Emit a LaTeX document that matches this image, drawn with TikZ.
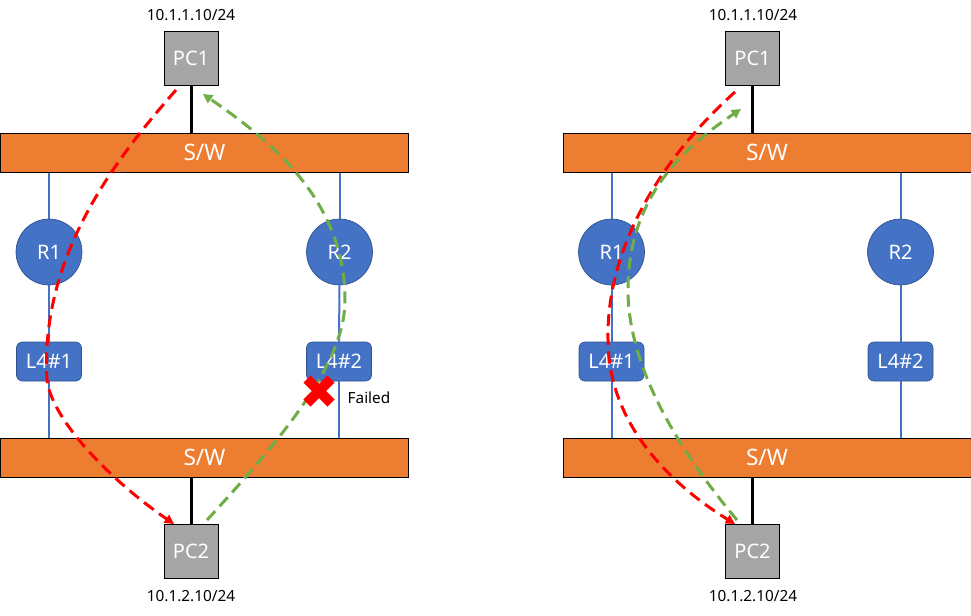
\documentclass[tikz,border=0pt]{standalone}
\usepackage{fontspec}
\setmainfont{Noto Sans}
\usetikzlibrary{arrows.meta}
\definecolor{swor}{HTML}{ED7D31}
\definecolor{rblue}{HTML}{4472C4}
\definecolor{rbord}{HTML}{2F528F}
\definecolor{pcgray}{HTML}{A5A5A5}
\definecolor{pgreen}{HTML}{70AD47}
\definecolor{pred}{HTML}{FF0000}
\begin{document}
\begin{tikzpicture}[x=0.75pt,y=-0.75pt,
  pcbox/.style={draw=black, line width=0.75pt, fill=pcgray, minimum width=40.5pt, minimum height=40.5pt, inner sep=0pt, text=white, font=\fontsize{15}{17}\selectfont},
  swbar/.style={draw=black, line width=0.75pt, fill=swor, minimum width=306pt, minimum height=29.25pt, inner sep=0pt, text=white, font=\fontsize{17}{19}\selectfont},
  router/.style={circle, fill=rblue, draw=rbord, line width=0.5pt, minimum size=49.5pt, inner sep=0pt, text=white, font=\fontsize{15}{17}\selectfont},
  l4box/.style={rounded corners=4.5pt, fill=rblue, draw=rbord, line width=0.5pt, minimum width=48.75pt, minimum height=29.25pt, inner sep=0pt, text=white, font=\fontsize{15}{17}\selectfont},
  iplabel/.style={font=\fontsize{11.5}{13}\selectfont, text=black},
  blink/.style={rblue, line width=1.5pt},
  klink/.style={black, line width=2.25pt},
  redpath/.style={pred, line width=2.25pt, dash pattern=on 9pt off 5pt, -{Triangle[length=7pt,width=7pt]}},
  greenpath/.style={pgreen, line width=2.25pt, dash pattern=on 9pt off 5pt, -{Triangle[length=7pt,width=7pt]}}
]
\useasboundingbox (0,0) rectangle (971,615);

% ---------------- Left panel ----------------
\node[iplabel] (ipa1) at (191,15) {10.1.1.10/24};
\node[pcbox] (PCa1) at (191,58) {PC1};
\node[swbar] (SWa1) at (204.5,152.5) {S/W};
\node[router] (Ra1) at (49,252) {R1};
\node[router] (Ra2) at (339.5,252) {R2};
\node[l4box] (La1) at (49,361.5) {L4\#1};
\node[l4box] (La2) at (339,361.5) {L4\#2};
\node[swbar] (SWa2) at (204.5,457.5) {S/W};
\node[pcbox] (PCa2) at (191,551) {PC2};
\node[iplabel] (ipa2) at (191,596) {10.1.2.10/24};
\node[iplabel] (fail) at (369,398) {Failed};

\draw[klink] (PCa1.south) -- (PCa1.south |- SWa1.north);
\draw[klink] (PCa2.north) -- (PCa2.north |- SWa2.south);
\draw[blink] (Ra1.north |- SWa1.south) -- (Ra1.north);
\draw[blink] (Ra1.south) -- (La1.north);
\draw[blink] (La1.south) -- (La1.south |- SWa2.north);
\draw[blink] (Ra2.north |- SWa1.south) -- (Ra2.north);
\draw[blink] (Ra2.south) -- (La2.north);
\draw[blink] (La2.south) -- (La2.south |- SWa2.north);

\coordinate (ra0) at (176,90);
\coordinate (ra1) at (47,380);
\coordinate (ra2) at (174,524);
\draw[redpath] (ra0) .. controls (110,165) and (40,260) .. (ra1) .. controls (52,420) and (110,480) .. (ra2);

\coordinate (ga0) at (207,520);
\coordinate (ga1) at (345,300);
\coordinate (ga2) at (203,94);
\draw[greenpath] (ga0) .. controls (290,430) and (345,360) .. (ga1) .. controls (345,200) and (270,140) .. (ga2);

% red cross
\draw[pred, line width=7.5pt] (307,379) -- (331,403) (331,379) -- (307,403);

% ---------------- Right panel ----------------
\node[iplabel] (ipb1) at (753,15) {10.1.1.10/24};
\node[pcbox] (PCb1) at (752.5,58) {PC1};
\node[swbar] (SWb1) at (767,152.5) {S/W};
\node[router] (Rb1) at (611.5,252) {R1};
\node[router] (Rb2) at (900.5,252) {R2};
\node[l4box] (Lb1) at (611.5,361.5) {L4\#1};
\node[l4box] (Lb2) at (900.5,361.5) {L4\#2};
\node[swbar] (SWb2) at (767,457.5) {S/W};
\node[pcbox] (PCb2) at (752.5,551) {PC2};
\node[iplabel] (ipb2) at (753,596) {10.1.2.10/24};

\draw[klink] (PCb1.south) -- (PCb1.south |- SWb1.north);
\draw[klink] (PCb2.north) -- (PCb2.north |- SWb2.south);
\draw[blink] (Rb1.north |- SWb1.south) -- (Rb1.north);
\draw[blink] (Rb1.south) -- (Lb1.north);
\draw[blink] (Lb1.south) -- (Lb1.south |- SWb2.north);
\draw[blink] (Rb2.north |- SWb1.south) -- (Rb2.north);
\draw[blink] (Rb2.south) -- (Lb2.north);
\draw[blink] (Lb2.south) -- (Lb2.south |- SWb2.north);

\coordinate (rb0) at (735,92);
\coordinate (rb1) at (608,340);
\coordinate (rb2) at (735,524);
\draw[redpath] (rb0) .. controls (670,150) and (606,240) .. (rb1) .. controls (608,430) and (680,490) .. (rb2);

\coordinate (gb0) at (737,520);
\coordinate (gb1) at (628,290);
\coordinate (gb2) at (741,109);
\draw[greenpath] (gb0) .. controls (670,440) and (628,360) .. (gb1) .. controls (628,200) and (680,150) .. (gb2);
\end{tikzpicture}
\end{document}
